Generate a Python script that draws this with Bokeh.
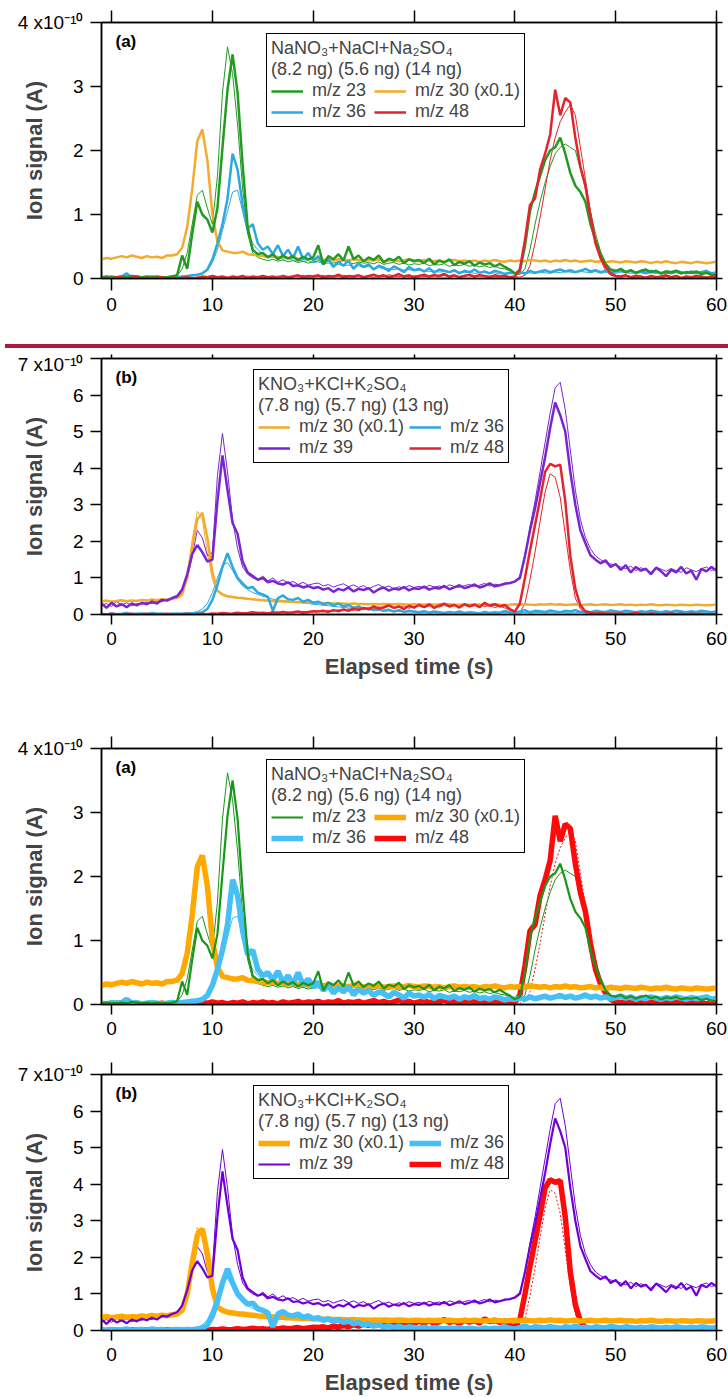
from bokeh.plotting import figure
from bokeh.models import Range1d, LinearAxis, FixedTicker, Label, Legend, LegendItem, Div
from bokeh.layouts import column
from bokeh.embed import file_html
from bokeh.resources import INLINE

FONT = "Liberation Sans"

# sample times (s), 0.5 s steps from -1 to 60
TIME = [round(-1 + 0.5 * i, 1) for i in range(123)]
X_TICKS = [0, 10, 20, 30, 40, 50, 60]

# ---------------- Panel (a): NaNO3 + NaCl + Na2SO4 (units of 1e-10 A) ----------------
A_MZ30 = [0.30,0.32,0.31,0.33,0.35,0.33,0.36,0.34,0.32,0.35,0.33,0.34,0.32,0.36,0.36,0.38,
          0.48,0.80,1.40,2.15,2.33,1.85,1.00,0.58,0.44,0.42,0.40,0.40,0.42,0.38,0.37,0.36,0.35,0.34,0.35,0.33,0.34,0.32,0.33,0.31,0.32,0.30,0.31,
          0.30,0.29,0.31,0.28,0.30,0.29,0.28,0.30,0.29,0.27, 0.29,0.28,0.30,0.27,0.28,0.29,0.27,0.28,0.30,0.28,
          0.27,0.29,0.28,0.27,0.28,0.26,0.28,0.29,0.27,0.28, 0.27,0.28,0.26,0.28,0.27,0.29,0.27,0.26,0.28,0.27,
          0.28,0.27,0.29,0.28,0.27,0.28,0.26,0.28,0.27,0.29, 0.27,0.28,0.26,0.27,0.28,0.26,0.27,0.25,0.27,0.26,
          0.25,0.27,0.26,0.25,0.27,0.26,0.24,0.26,0.25,0.27, 0.25,0.24,0.26,0.25,0.24,0.26,0.25,0.24,0.25,0.26]
A_MZ23 = [0.02,0.03,0.02,0.02,0.03,0.02,0.04,0.03,0.02,0.03,0.02,0.03,0.02,0.02,0.03,0.05,
          0.36,0.15,0.70,1.20,1.00,0.92,0.72,1.10,2.05,2.95,3.50,2.90,1.77,0.80,0.45,0.38,0.40,0.33,0.38,0.30,0.36,0.31,0.35,0.28,0.34,0.30,0.33,
          0.52,0.22,0.35,0.30,0.38,0.28,0.50,0.30,0.36,0.27, 0.33,0.29,0.36,0.25,0.31,0.28,0.34,0.24,0.30,0.27,
          0.29,0.24,0.31,0.22,0.28,0.25,0.30,0.21,0.26,0.23, 0.27,0.20,0.25,0.22,0.24,0.19,0.23,0.18,0.14,0.08,
          0.12,0.50,1.05,1.35,1.60,1.85,2.00,2.05,2.20,1.95, 1.65,1.45,1.35,1.20,0.85,0.60,0.38,0.22,0.14,0.12,
          0.15,0.10,0.13,0.09,0.12,0.14,0.10,0.12,0.08,0.11, 0.10,0.12,0.08,0.10,0.09,0.11,0.07,0.09,0.06,0.05]
A_MZ23_REP = [0.01,0.02,0.03,0.01,0.02,0.03,0.02,0.01,0.03,0.02,0.02,0.01,0.03,0.02,0.02,0.04,
              0.15,0.40,0.85,1.30,1.38,1.10,0.85,1.60,2.90,3.62,3.20,2.40,1.40,0.70,0.40,0.33,0.30,0.28,0.30,0.27,0.29,0.26,0.28,0.25,0.27,0.24,0.26,
              0.28,0.25,0.27,0.24,0.26,0.28,0.25,0.23,0.26,0.24, 0.25,0.23,0.26,0.22,0.24,0.25,0.22,0.24,0.21,0.23,
              0.22,0.24,0.20,0.22,0.21,0.23,0.19,0.21,0.20,0.22, 0.19,0.21,0.18,0.20,0.17,0.19,0.16,0.15,0.12,0.08,
              0.06,0.15,0.45,0.85,1.20,1.50,1.75,1.95,2.05,2.10, 2.05,2.00,1.70,1.40,1.05,0.70,0.42,0.25,0.15,0.11,
              0.12,0.09,0.11,0.08,0.10,0.12,0.09,0.10,0.07,0.09, 0.08,0.10,0.07,0.09,0.08,0.09,0.06,0.08,0.05,0.04]
A_MZ36 = [0.02,0.01,0.03,0.02,0.03,0.08,0.02,0.03,0.01,0.02,0.03,0.02,0.01,0.02,0.03,0.02,
          0.03,0.04,0.05,0.06,0.08,0.14,0.30,0.55,0.85,1.25,1.95,1.70,1.15,0.78,0.85,0.55,0.45,0.50,0.38,0.52,0.35,0.45,0.32,0.50,0.30,0.40,0.28,
          0.35,0.22,0.30,0.18,0.26,0.20,0.28,0.15,0.24,0.18, 0.22,0.14,0.20,0.17,0.12,0.19,0.15,0.10,0.18,0.13,
          0.15,0.11,0.16,0.09,0.14,0.12,0.10,0.13,0.08,0.12, 0.10,0.14,0.09,0.11,0.08,0.12,0.10,0.07,0.09,0.08,
          0.10,0.08,0.12,0.09,0.11,0.13,0.10,0.12,0.14,0.11, 0.13,0.10,0.12,0.15,0.11,0.13,0.10,0.12,0.09,0.11,
          0.13,0.10,0.12,0.08,0.11,0.09,0.12,0.10,0.08,0.11, 0.09,0.12,0.10,0.08,0.11,0.09,0.10,0.12,0.08,0.10]
A_MZ36_REP = [0.01,0.02,0.01,0.02,0.03,0.05,0.02,0.01,0.02,0.01,0.02,0.03,0.01,0.02,0.01,0.02,
              0.02,0.03,0.04,0.05,0.07,0.12,0.25,0.45,0.75,1.05,1.35,1.38,1.05,0.70,0.55,0.45,0.38,0.36,0.33,0.35,0.30,0.32,0.28,0.30,0.27,0.28,0.25,
              0.26,0.23,0.24,0.21,0.22,0.20,0.21,0.18,0.20,0.17, 0.19,0.16,0.17,0.15,0.16,0.14,0.15,0.13,0.14,0.12,
              0.13,0.12,0.11,0.12,0.10,0.11,0.09,0.11,0.10,0.09, 0.10,0.08,0.09,0.10,0.08,0.09,0.07,0.08,0.09,0.07,
              0.08,0.07,0.09,0.08,0.10,0.09,0.08,0.10,0.09,0.11, 0.10,0.09,0.11,0.10,0.09,0.11,0.08,0.10,0.09,0.08,
              0.10,0.09,0.08,0.10,0.09,0.07,0.09,0.08,0.10,0.08, 0.07,0.09,0.08,0.10,0.08,0.07,0.09,0.08,0.07,0.08]
A_MZ48 = [0.00,0.01,0.00,0.02,0.01,0.00,0.01,0.02,0.00,0.01,0.00,0.01,0.02,0.00,0.01,0.00,
          0.01,0.02,0.00,0.01,0.03,0.02,0.04,0.02,0.03,0.01,0.03,0.02,0.04,0.01,0.03,0.02,0.04,0.02,0.03,0.01,0.04,0.02,0.03,0.05,0.02,0.04,0.03,
          0.05,0.02,0.04,0.03,0.06,0.02,0.04,0.03,0.05,0.02, 0.04,0.06,0.03,0.05,0.02,0.04,0.07,0.03,0.05,0.02,
          0.04,0.06,0.03,0.05,0.04,0.07,0.03,0.05,0.02,0.04, 0.06,0.03,0.05,0.04,0.02,0.05,0.03,0.04,0.02,0.03,
          0.15,0.60,1.15,1.25,1.70,1.95,2.25,2.95,2.55,2.82, 2.75,2.20,1.75,1.45,0.95,0.55,0.32,0.18,0.08,0.04,
          0.03,0.05,0.02,0.04,0.03,0.01,0.04,0.02,0.03,0.05, 0.02,0.04,0.01,0.03,0.02,0.04,0.03,0.01,0.03,0.02]
A_MZ48_REP = [0.01,0.00,0.02,0.01,0.00,0.01,0.00,0.02,0.01,0.00,0.01,0.02,0.00,0.01,0.00,0.01,
              0.02,0.00,0.01,0.02,0.01,0.03,0.01,0.02,0.03,0.02,0.01,0.03,0.02,0.04,0.02,0.03,0.01,0.03,0.02,0.04,0.03,0.02,0.04,0.03,0.05,0.02,0.04,
              0.03,0.05,0.02,0.04,0.03,0.05,0.04,0.02,0.05,0.03, 0.04,0.02,0.05,0.03,0.06,0.04,0.03,0.05,0.02,0.04,
              0.05,0.03,0.04,0.06,0.03,0.05,0.02,0.04,0.03,0.05, 0.04,0.02,0.05,0.03,0.04,0.02,0.03,0.04,0.02,0.03,
              0.02,0.05,0.20,0.55,0.95,1.40,1.85,2.20,2.45,2.60, 2.72,2.55,2.05,1.55,1.05,0.60,0.30,0.12,0.05,0.03,
              0.02,0.04,0.03,0.01,0.03,0.02,0.04,0.02,0.01,0.03, 0.02,0.03,0.01,0.02,0.03,0.01,0.02,0.03,0.01,0.02]

# ---------------- Panel (b): KNO3 + KCl + K2SO4 (units of 1e-10 A) ----------------
B_MZ30 = [0.36,0.38,0.35,0.37,0.39,0.36,0.38,0.37,0.40,0.38,0.41,0.39,0.42,0.40,0.43,0.45,
          0.55,1.00,1.85,2.60,2.78,2.10,1.15,0.65,0.55,0.50,0.48,0.46,0.45,0.43,0.42,0.40,0.39,0.38,0.37,0.36,0.36,0.35,0.34,0.34,0.33,0.33,0.32,
          0.32,0.31,0.31,0.30,0.30,0.30,0.29,0.30,0.29,0.29, 0.28,0.29,0.28,0.29,0.28,0.28,0.29,0.28,0.27,0.28,
          0.28,0.27,0.28,0.27,0.28,0.27,0.28,0.27,0.27,0.28, 0.27,0.28,0.27,0.26,0.27,0.28,0.27,0.26,0.27,0.28,
          0.27,0.28,0.27,0.26,0.28,0.27,0.29,0.27,0.28,0.26, 0.27,0.28,0.26,0.27,0.28,0.26,0.27,0.28,0.26,0.27,
          0.28,0.26,0.27,0.25,0.27,0.26,0.28,0.26,0.25,0.27, 0.26,0.25,0.27,0.26,0.25,0.27,0.26,0.25,0.26,0.27]
B_MZ30_REP = [0.34,0.36,0.37,0.35,0.38,0.37,0.36,0.39,0.38,0.37,0.40,0.38,0.41,0.42,0.44,0.47,
              0.62,1.10,2.05,2.82,2.60,1.70,0.95,0.62,0.52,0.48,0.46,0.45,0.43,0.42,0.41,0.40,0.38,0.37,0.36,0.36,0.35,0.35,0.34,0.33,0.33,0.32,0.32,
              0.31,0.31,0.30,0.30,0.29,0.30,0.29,0.29,0.28,0.29, 0.28,0.28,0.29,0.28,0.27,0.28,0.28,0.27,0.28,0.27,
              0.27,0.28,0.27,0.27,0.26,0.27,0.28,0.27,0.26,0.27, 0.27,0.26,0.27,0.27,0.26,0.27,0.26,0.27,0.26,0.27,
              0.26,0.27,0.27,0.26,0.27,0.26,0.28,0.27,0.26,0.27, 0.26,0.27,0.27,0.26,0.27,0.26,0.27,0.26,0.27,0.26,
              0.27,0.25,0.26,0.26,0.25,0.26,0.27,0.25,0.26,0.25, 0.26,0.25,0.26,0.25,0.26,0.25,0.26,0.25,0.25,0.26]
B_MZ39 = [0.30,0.18,0.32,0.22,0.28,0.20,0.30,0.25,0.32,0.28,0.35,0.30,0.40,0.38,0.45,0.50,
          0.68,1.10,1.65,1.90,1.70,1.45,1.50,3.10,4.35,3.40,2.50,2.20,1.45,1.15,1.05,0.95,1.00,0.88,0.92,0.85,0.82,0.88,0.78,0.80,0.74,0.78,0.72,
          0.75,0.68,0.72,0.62,0.70,0.66,0.74,0.63,0.70,0.67, 0.72,0.60,0.69,0.74,0.65,0.71,0.68,0.75,0.66,0.72,
          0.70,0.76,0.68,0.73,0.71,0.78,0.69,0.74,0.80,0.72, 0.76,0.82,0.74,0.78,0.85,0.77,0.80,0.84,0.86,0.90,
          1.00,1.60,2.30,2.90,3.60,4.30,5.10,5.80,5.45,5.00, 3.90,3.00,2.30,1.95,1.62,1.50,1.40,1.48,1.30,1.38,
          1.22,1.35,1.15,1.30,1.20,1.25,1.10,1.28,1.18,1.05, 1.22,1.15,1.30,1.12,1.20,0.95,1.25,1.18,1.30,1.20]
B_MZ39_REP = [0.25,0.30,0.22,0.35,0.26,0.32,0.24,0.30,0.28,0.33,0.30,0.36,0.35,0.42,0.44,0.52,
              0.60,0.95,1.60,2.30,2.10,1.60,1.70,3.80,4.95,3.90,2.60,1.80,1.30,1.10,1.00,0.95,1.05,0.92,1.00,0.88,0.95,0.86,0.90,0.82,0.88,0.80,0.84,
              0.86,0.78,0.82,0.75,0.80,0.84,0.76,0.81,0.74,0.79, 0.70,0.77,0.82,0.73,0.78,0.70,0.76,0.72,0.79,0.74,
              0.77,0.72,0.80,0.75,0.78,0.73,0.81,0.77,0.74,0.79, 0.82,0.76,0.80,0.85,0.78,0.83,0.80,0.86,0.84,0.92,
              1.05,1.55,2.40,3.10,3.90,4.70,5.50,6.20,6.35,5.60, 4.50,3.40,2.60,2.10,1.80,1.60,1.50,1.42,1.38,1.35,
              1.30,1.25,1.32,1.20,1.28,1.22,1.15,1.30,1.24,1.18, 1.26,1.20,1.15,1.28,1.22,1.17,1.25,1.30,1.20,1.25]
B_MZ36 = [0.02,0.00,0.03,0.01,0.02,0.04,0.01,0.02,0.03,0.01,0.04,0.02,0.03,0.01,0.02,0.03,
          0.02,0.03,0.02,0.04,0.06,0.15,0.40,0.80,1.30,1.68,1.30,1.00,0.85,0.72,0.75,0.60,0.55,0.48,0.10,0.45,0.52,0.42,0.40,0.45,0.35,0.40,0.32,
          0.35,0.28,0.32,0.25,0.30,0.22,0.26,0.18,0.22,0.15, 0.18,0.12,0.15,0.10,0.13,0.08,0.12,0.07,0.10,0.08,
          0.06,0.09,0.05,0.08,0.06,0.04,0.07,0.05,0.08,0.04, 0.06,0.05,0.03,0.07,0.04,0.06,0.05,0.10,0.06,0.04,
          0.08,0.12,0.06,0.10,0.09,0.07,0.11,0.08,0.06,0.10, 0.08,0.12,0.07,0.09,0.06,0.10,0.08,0.07,0.11,0.09,
          0.07,0.10,0.08,0.06,0.09,0.07,0.10,0.08,0.06,0.09, 0.07,0.10,0.08,0.06,0.09,0.07,0.10,0.08,0.06,0.08]
B_MZ36_REP = [0.01,0.02,0.01,0.03,0.02,0.01,0.02,0.03,0.02,0.01,0.02,0.03,0.02,0.01,0.03,0.02,
              0.03,0.04,0.05,0.08,0.15,0.30,0.60,1.00,1.35,1.42,1.20,0.95,0.78,0.68,0.60,0.55,0.50,0.46,0.42,0.40,0.38,0.36,0.34,0.33,0.31,0.30,0.28,
              0.27,0.25,0.24,0.22,0.21,0.19,0.18,0.16,0.15,0.14, 0.13,0.12,0.11,0.10,0.10,0.09,0.08,0.08,0.07,0.07,
              0.06,0.07,0.06,0.05,0.06,0.05,0.06,0.05,0.04,0.05, 0.06,0.04,0.05,0.04,0.05,0.04,0.05,0.06,0.04,0.05,
              0.05,0.06,0.04,0.05,0.06,0.04,0.05,0.04,0.06,0.05, 0.04,0.05,0.06,0.04,0.05,0.04,0.05,0.06,0.04,0.05,
              0.04,0.05,0.04,0.06,0.05,0.04,0.05,0.04,0.05,0.04, 0.05,0.04,0.06,0.05,0.04,0.05,0.04,0.05,0.04,0.05]
B_MZ48 = [0.01,0.00,0.02,0.01,0.00,0.01,0.02,0.00,0.01,0.02,0.00,0.01,0.00,0.02,0.01,0.00,
          0.01,0.02,0.00,0.01,0.02,0.01,0.03,0.02,0.04,0.02,0.03,0.05,0.03,0.04,0.06,0.04,0.05,0.03,0.06,0.04,0.07,0.05,0.06,0.08,0.05,0.07,0.09,
          0.08,0.10,0.07,0.12,0.09,0.14,0.10,0.16,0.12,0.18, 0.14,0.22,0.16,0.20,0.25,0.18,0.22,0.15,0.24,0.19,
          0.26,0.20,0.28,0.18,0.24,0.30,0.22,0.26,0.19,0.28, 0.23,0.27,0.20,0.32,0.24,0.28,0.22,0.26,0.15,0.08,
          0.30,1.00,1.75,2.45,3.15,3.90,4.12,4.05,4.10,3.10, 1.60,0.70,0.25,0.08,0.05,0.03,0.04,0.02,0.03,0.02,
          0.03,0.01,0.02,0.04,0.02,0.01,0.03,0.02,0.00,0.02, 0.03,0.01,0.02,0.00,0.03,0.01,0.02,0.00,0.01,0.00]
B_MZ48_REP = [0.00,0.01,0.00,0.02,0.01,0.00,0.01,0.00,0.02,0.01,0.00,0.01,0.02,0.00,0.01,0.00,
              0.02,0.01,0.00,0.02,0.01,0.03,0.02,0.01,0.03,0.04,0.02,0.03,0.05,0.03,0.04,0.06,0.03,0.05,0.04,0.07,0.05,0.06,0.04,0.07,0.08,0.06,0.09,
              0.10,0.07,0.11,0.09,0.13,0.10,0.15,0.11,0.17,0.13, 0.19,0.15,0.21,0.17,0.23,0.18,0.20,0.24,0.17,0.22,
              0.25,0.19,0.23,0.27,0.20,0.25,0.21,0.28,0.22,0.26, 0.20,0.24,0.29,0.21,0.25,0.19,0.23,0.18,0.12,0.06,
              0.05,0.30,0.95,1.70,2.55,3.35,3.85,3.75,3.20,2.20, 1.20,0.45,0.15,0.05,0.03,0.02,0.03,0.02,0.01,0.02,
              0.02,0.01,0.03,0.02,0.01,0.02,0.00,0.02,0.01,0.03, 0.01,0.02,0.00,0.01,0.02,0.01,0.00,0.02,0.01,0.00]

A_LABELS = ["m/z 23", "m/z 30 (x0.1)", "m/z 36", "m/z 48"]
B_LABELS = ["m/z 30 (x0.1)", "m/z 36", "m/z 39", "m/z 48"]
A_TITLE = "NaNO\u2083+NaCl+Na\u2082SO\u2084\n(8.2 ng) (5.6 ng) (14 ng)"
B_TITLE = "KNO\u2083+KCl+K\u2082SO\u2084\n(7.8 ng) (5.7 ng) (13 ng)"

A_SERIES = {"m/z 23": (A_MZ23, [A_MZ23_REP]), "m/z 30 (x0.1)": (A_MZ30, []),
            "m/z 36": (A_MZ36, [A_MZ36_REP]), "m/z 48": (A_MZ48, [A_MZ48_REP])}
B_SERIES = {"m/z 30 (x0.1)": (B_MZ30, [B_MZ30_REP]), "m/z 36": (B_MZ36, [B_MZ36_REP]),
            "m/z 39": (B_MZ39, [B_MZ39_REP]), "m/z 48": (B_MZ48, [B_MZ48_REP])}

# styles: (color, main width, replicate width, replicate dash)
TOP_STYLE = {"m/z 23": ("#239b23", 2.5, 1.0, "solid"), "m/z 30 (x0.1)": ("#f2ab2c", 2.5, 1.0, "solid"),
             "m/z 36": ("#2da9df", 2.5, 1.0, "solid"), "m/z 48": ("#e3242b", 2.5, 1.0, "solid"),
             "m/z 39": ("#7a25cf", 2.5, 1.0, "solid")}
BOT_STYLE = {"m/z 23": ("#1a961a", 2.2, 1.0, "solid"), "m/z 30 (x0.1)": ("#ffa800", 5.5, 1.0, "solid"),
             "m/z 36": ("#45bff5", 5.5, 1.0, "solid"), "m/z 48": ("#ff0a0a", 5.5, 1.0, "2 2"),
             "m/z 39": ("#7000d8", 2.2, 1.0, "solid")}

SUP = "\u207b\u00b9\u2070"  # superscript -10
NBSP = "\u00a0"


def style_axis(ax, tick_out, ticks):
    ax.axis_line_width = 1.5
    ax.axis_line_color = "black"
    ax.major_tick_line_width = 1.5
    ax.major_tick_line_color = "black"
    ax.major_tick_in = 0
    ax.major_tick_out = tick_out
    ax.minor_tick_line_color = None
    ax.major_label_text_font = FONT
    ax.major_label_text_color = "black"
    if ticks is None:
        ax.major_label_text_font_size = "19px"
    else:
        ax.major_label_overrides = {t: "" for t in ticks}
        ax.major_label_text_font_size = "1px"
        ax.major_label_standoff = 0


def make_panel(height, top_border, bottom_border, top_tick, bottom_tick, ymax, tag,
               series, order, labels, title, style, legend_left, label_width, pad_first, with_xtitle):
    p = figure(width=728, height=height, x_range=Range1d(-1, 60), y_range=Range1d(0, ymax),
               output_backend="svg", toolbar_location=None,
               min_border_left=101, min_border_right=12,
               min_border_top=top_border, min_border_bottom=bottom_border,
               background_fill_color="white", border_fill_color="white",
               outline_line_color="black", outline_line_width=1.5)
    p.grid.visible = False
    yticks = list(range(ymax + 1))

    xa = p.xaxis[0]
    xa.ticker = FixedTicker(ticks=X_TICKS)
    style_axis(xa, bottom_tick, None)
    xa.major_label_standoff = 7
    if with_xtitle:
        xa.axis_label = "Elapsed time (s)"
        xa.axis_label_text_font = FONT
        xa.axis_label_text_font_size = "22px"
        xa.axis_label_text_font_style = "bold"
        xa.axis_label_standoff = 6

    ya = p.yaxis[0]
    ya.ticker = FixedTicker(ticks=yticks)
    style_axis(ya, 11, None)
    ya.major_label_overrides = {ymax: f"{ymax} x10{SUP}"}
    ya.major_label_standoff = 7
    ya.axis_label = "Ion signal (A)"
    ya.axis_label_text_font = FONT
    ya.axis_label_text_font_size = "22px"
    ya.axis_label_text_font_style = "bold"
    ya.axis_label_standoff = -32

    top_ax = LinearAxis(ticker=FixedTicker(ticks=X_TICKS))
    style_axis(top_ax, top_tick, X_TICKS)
    p.add_layout(top_ax, "above")
    right_ax = LinearAxis(ticker=FixedTicker(ticks=yticks))
    style_axis(right_ax, 6, yticks)
    p.add_layout(right_ax, "right")

    mains = {}
    for name in order:
        main, reps = series[name]
        color, mw, rw, rdash = style[name]
        for rep in reps:
            p.line(TIME[:len(rep)], rep, line_color=color, line_width=rw, line_dash=rdash)
    for name in order:
        main, reps = series[name]
        color, mw, rw, rdash = style[name]
        mains[name] = p.line(TIME[:len(main)], main, line_color=color, line_width=mw)

    items = []
    for k, lab in enumerate(labels):
        shown = lab + NBSP if (pad_first and k == 0) else lab
        items.append(LegendItem(label=shown, renderers=[mains[lab]]))
    leg = Legend(items=items, location=(legend_left, 151), orientation="horizontal", ncols=2,
                 title=title, title_text_font=FONT, title_text_font_size="18px",
                 title_text_font_style="normal", title_standoff=0, title_text_line_height=1.2,
                 label_text_font=FONT, label_text_font_size="18px", label_text_line_height=1.0,
                 label_height=18, glyph_height=18, glyph_width=32, label_standoff=9,
                 label_width=label_width, spacing=0, padding=4, margin=0,
                 border_line_color="black", border_line_width=1.8, border_line_alpha=1.0,
                 background_fill_color="white", background_fill_alpha=1.0)
    p.add_layout(leg)

    p.add_layout(Label(x=-1, y=ymax, x_offset=14, y_offset=-19, text=tag,
                       text_align="left", text_baseline="middle", text_font=FONT,
                       text_font_size="17px", text_font_style="bold", text_color="black"))
    return p


a1 = make_panel(339, 22, 61, 12, 12, 4, "(a)", A_SERIES,
                ["m/z 30 (x0.1)", "m/z 36", "m/z 23", "m/z 48"], A_LABELS, A_TITLE, TOP_STYLE, 165, 62, False, False)
b1 = make_panel(357, 5, 96, 4, 10, 7, "(b)", B_SERIES,
                ["m/z 30 (x0.1)", "m/z 36", "m/z 39", "m/z 48"], B_LABELS, B_TITLE, TOP_STYLE, 152, 40, True, True)
a2 = make_panel(350, 38, 56, 12, 10, 4, "(a)", A_SERIES,
                ["m/z 48", "m/z 30 (x0.1)", "m/z 36", "m/z 23"], A_LABELS, A_TITLE, BOT_STYLE, 165, 62, False, False)
b2 = make_panel(347, 14, 77, 12, 10, 7, "(b)", B_SERIES,
                ["m/z 48", "m/z 30 (x0.1)", "m/z 36", "m/z 39"], B_LABELS, B_TITLE, BOT_STYLE, 152, 40, True, True)

SEP_COLOR = "#ad1a3e"
sep = Div(text="", width=728, height=4, styles={"background-color": SEP_COLOR})

layout = column(a1, sep, b1, a2, b2, spacing=0)
open("out.html", "w").write(file_html(layout, INLINE))
